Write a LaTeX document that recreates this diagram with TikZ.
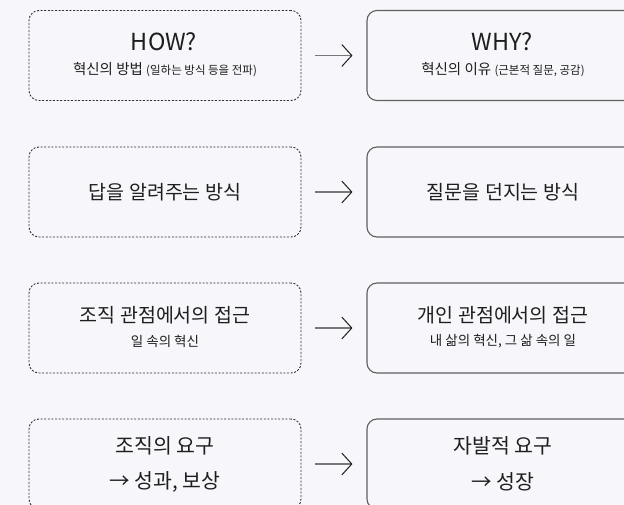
\documentclass[tikz,border=0pt]{standalone}
\usepackage{fontspec}
\setmainfont{Noto Sans CJK KR}
\usetikzlibrary{arrows.meta}
\definecolor{bg}{RGB}{247,246,250}
\definecolor{dashc}{RGB}{50,50,50}
\definecolor{solidc}{RGB}{95,95,95}
\definecolor{txt}{RGB}{30,30,30}
\definecolor{arrc}{RGB}{120,120,120}
\newcommand{\smallfs}{\fontsize{11.5}{14}\selectfont}
\begin{document}
\begin{tikzpicture}[x=1pt,y=-1pt,
  leftbox/.style={draw=dashc, dash pattern=on 2pt off 1.6pt, line width=0.9pt, rounded corners=10pt, minimum width=272pt, minimum height=90pt, inner sep=0pt},
  rightbox/.style={draw=solidc, line width=1.1pt, rounded corners=10pt, minimum width=272pt, minimum height=90pt, inner sep=0pt},
  bigt/.style={text=txt, inner sep=0pt, font=\fontsize{23.5}{27}\selectfont},
  maint/.style={text=txt, inner sep=0pt, font=\fontsize{19.5}{23}\selectfont},
  mainb/.style={text=txt, inner sep=0pt, font=\fontsize{20.5}{24}\selectfont},
  subt/.style={text=txt, inner sep=0pt, font=\fontsize{14.5}{18}\selectfont},
  minit/.style={text=txt, inner sep=0pt, font=\fontsize{13.5}{16}\selectfont},
  arr/.style={draw=arrc, line width=1.2pt, shorten <=14pt, shorten >=14pt, -{Straight Barb[length=10pt, width=22pt, color=txt, line width=1pt]}}
]
\fill[bg] (0,0) rectangle (624,505);
\useasboundingbox (0,0) rectangle (624,505);

% row 1
\node[leftbox] (l1) at (165,55.5) {};
\node[rightbox] (r1) at (503,55.5) {};
\node[bigt] (l1a) at (164,42) {HOW?};
\node[subt] (l1b) at (165,70) {혁신의 방법 {\smallfs (일하는 방식 등을 전파)}};
\node[bigt] (r1a) at (502,42) {WHY?};
\node[subt] (r1b) at (503,70) {혁신의 이유 {\smallfs (근본적 질문, 공감)}};
\draw[arr] (l1) -- (r1);

% row 2
\node[leftbox] (l2) at (165,192) {};
\node[rightbox] (r2) at (503,192) {};
\node[maint] (l2a) at (165,192) {답을 알려주는 방식};
\node[maint] (r2a) at (503,192) {질문을 던지는 방식};
\draw[arr] (l2) -- (r2);

% row 3
\node[leftbox] (l3) at (165,328) {};
\node[rightbox] (r3) at (503,328) {};
\node[maint] (l3a) at (165,315) {조직 관점에서의 접근};
\node[minit] (l3b) at (165,341) {일 속의 혁신};
\node[maint] (r3a) at (503,315) {개인 관점에서의 접근};
\node[minit] (r3b) at (503,341) {내 삶의 혁신, 그 삶 속의 일};
\draw[arr] (l3) -- (r3);

% row 4
\node[leftbox] (l4) at (165,464) {};
\node[rightbox] (r4) at (503,464) {};
\node[mainb] (l4a) at (165,446) {조직의 요구};
\node[mainb] (l4b) at (165,482) {→ 성과, 보상};
\node[mainb] (r4a) at (503,446) {자발적 요구};
\node[mainb] (r4b) at (503,482) {→ 성장};
\draw[arr] (l4) -- (r4);
\end{tikzpicture}
\end{document}
